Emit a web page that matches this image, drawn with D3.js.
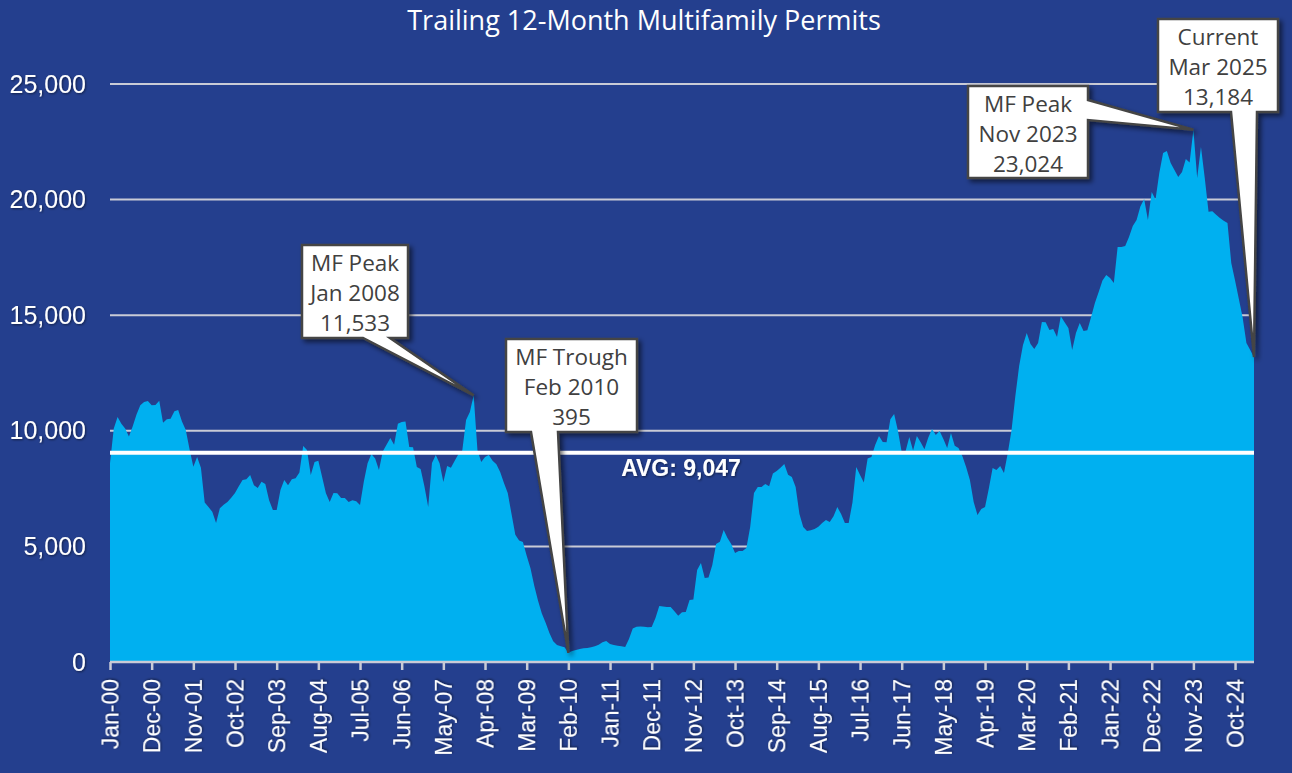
<!DOCTYPE html>
<html lang="en">
<head>
<meta charset="UTF-8">
<title>Trailing 12-Month Multifamily Permits</title>
<script src="https://d3js.org/d3.v7.min.js"></script>
<style>
  html, body { margin: 0; padding: 0; background: #243f8e; }
  svg { display: block; }
</style>
</head>
<body>
<svg width="1292" height="773"></svg>
<script>
// Trailing 12-month multifamily permits, monthly from Jan 2000 to Mar 2025
var permits = [
  8600, 10100, 10600, 10300, 10100, 9750, 10200, 10700, 11100, 11250, 11290, 11100,
  11120, 11300, 10350, 10500, 10520, 10850, 10900, 10400, 10030, 9200, 8450, 8870,
  8400, 6900, 6700, 6500, 6010, 6650, 6800, 6920, 7100, 7310, 7600, 7870,
  7900, 8090, 7650, 7530, 7800, 7700, 7000, 6570, 6570, 7440, 7870, 7650,
  7900, 7950, 8200, 9340, 9170, 8090, 8650, 8700, 8000, 7300, 6920, 7310,
  7300, 7090, 7090, 6920, 7000, 6950, 6790, 7800, 8600, 9000, 8800, 8300,
  9100, 9400, 9690, 9400, 10300, 10380, 10400, 9300, 9290, 8430, 8350, 7600,
  6700, 8610, 8950, 8600, 7790, 8480, 8400, 8700, 9000, 9150, 10470, 10810,
  11533, 9170, 8650, 8870, 8950, 8700, 8550, 8220, 7740, 7310, 6400, 5500,
  5250, 5190, 4600, 4050, 3300, 2650, 2100, 1700, 1250, 900, 735, 680,
  640, 395, 480, 520, 560, 590, 610, 640, 680, 750, 850, 910,
  780, 735, 700, 680, 650, 1000, 1450, 1520, 1540, 1520, 1500, 1510,
  1900, 2420, 2400, 2380, 2380, 2200, 2000, 2150, 2160, 2680, 2700, 3980,
  4280, 3630, 3650, 4200, 5100, 5200, 5710, 5360, 5100, 4710, 4800, 4800,
  4930, 5840, 7310, 7570, 7570, 7700, 7600, 8150, 8260, 8400, 8560, 8100,
  8000, 7570, 6400, 5840, 5670, 5700, 5750, 5850, 6010, 6140, 6050, 6300,
  6700, 6400, 6010, 6010, 6900, 8430, 8090, 7760, 8800, 8870, 9390, 9780,
  9520, 9500, 10500, 10730, 10000, 9080, 9100, 9730, 9150, 9780, 9500, 9200,
  9700, 10080, 9820, 9990, 9650, 9260, 9900, 9350, 9260, 8910, 8430, 7870,
  6920, 6360, 6620, 6700, 7500, 8390, 8300, 8480, 8170, 9040, 10030, 11500,
  12800, 13700, 14230, 13750, 13540, 13800, 14710, 14700, 14360, 14400, 14060, 14960,
  14700, 14450, 13490, 14230, 14660, 14320, 14350, 14920, 15530, 16000, 16500, 16740,
  16610, 16390, 17950, 17950, 17990, 18380, 18860, 19120, 19700, 20030, 19120, 20330,
  20000, 21150, 22020, 22100, 21580, 21280, 20980, 21190, 21760, 21600, 23024, 20930,
  22280, 20930, 19470, 19500, 19340, 19200, 19080, 18990, 17260, 16500, 15700, 14900,
  13800, 13490, 13184
];

var tickLabels = ["Jan-00","Dec-00","Nov-01","Oct-02","Sep-03","Aug-04","Jul-05",
  "Jun-06","May-07","Apr-08","Mar-09","Feb-10","Jan-11","Dec-11","Nov-12","Oct-13",
  "Sep-14","Aug-15","Jul-16","Jun-17","May-18","Apr-19","Mar-20","Feb-21","Jan-22",
  "Dec-22","Nov-23","Oct-24"];
var tickStep = 11;

var yTicks = [0, 5000, 10000, 15000, 20000, 25000];
var average = 9047;

var calloutMonths = [96, 121, 286, 302];
var calloutLabels = [
  ["MF Peak", "Jan 2008", "11,533"],
  ["MF Trough", "Feb 2010", "395"],
  ["MF Peak", "Nov 2023", "23,024"],
  ["Current", "Mar 2025", "13,184"]
];

// layout of the callout boxes (pixel positions)
var calloutBoxes = [
  {x: 302, y: 245, w: 106, h: 93, side: "bottom", a: 363, b: 390},
  {x: 506, y: 339, w: 131, h: 93, side: "bottom", a: 531, b: 558},
  {x: 968, y: 86,  w: 120, h: 92, side: "right",  a: 100, b: 120},
  {x: 1158, y: 19, w: 120, h: 93, side: "bottom", a: 1231, b: 1257}
];

var svg = d3.select("svg");
var bg = "#243f8e";

svg.append("rect").attr("width", 1292).attr("height", 773).attr("fill", bg);

var defs = svg.append("defs");
var shadow = defs.append("filter").attr("id", "boxShadow")
  .attr("x", "-20%").attr("y", "-20%").attr("width", "150%").attr("height", "150%");
shadow.append("feDropShadow").attr("dx", 3).attr("dy", 3).attr("stdDeviation", 2.5)
  .attr("flood-color", "#000").attr("flood-opacity", 0.55);

var textShadow = defs.append("filter").attr("id", "textShadow")
  .attr("x", "-10%").attr("y", "-20%").attr("width", "130%").attr("height", "150%");
textShadow.append("feDropShadow").attr("dx", 1).attr("dy", 1).attr("stdDeviation", 1)
  .attr("flood-color", "#000").attr("flood-opacity", 0.5);

var blur = defs.append("filter").attr("id", "lineBlur")
  .attr("x", "-5%").attr("y", "-200%").attr("width", "110%").attr("height", "500%");
blur.append("feGaussianBlur").attr("stdDeviation", 3);

var x = d3.scaleLinear().domain([0, permits.length - 1]).range([110, 1254]);
var y = d3.scaleLinear().domain([0, 25000]).range([662, 84]);

// gridlines
svg.append("g")
  .selectAll("line")
  .data(yTicks.slice(1))
  .join("line")
  .attr("x1", x(0)).attr("x2", x(permits.length - 1))
  .attr("y1", d => y(d)).attr("y2", d => y(d))
  .attr("stroke", "#c9cbd6").attr("stroke-width", 2);

// y labels
var yAxis = svg.append("g")
  .attr("transform", "translate(86,0)")
  .call(d3.axisLeft(y).tickValues(yTicks).tickSize(0).tickPadding(0).tickFormat(d3.format(",")));
yAxis.select(".domain").remove();
yAxis.selectAll("text")
  .attr("fill", "#fff")
  .attr("font-family", "'Liberation Sans', Arial, sans-serif")
  .attr("font-size", "25px")
  .attr("filter", "url(#textShadow)");

// area
var area = d3.area()
  .x((d, i) => x(i))
  .y0(y(0))
  .y1(d => y(d));

svg.append("path")
  .datum(permits)
  .attr("d", area)
  .attr("fill", "#00b0f0");

// average line with shadow
svg.append("line")
  .attr("x1", x(0)).attr("x2", x(permits.length - 1))
  .attr("y1", y(average) + 6).attr("y2", y(average) + 6)
  .attr("stroke", "#0a1848").attr("stroke-width", 8).attr("opacity", 0.75)
  .attr("filter", "url(#lineBlur)");
svg.append("line")
  .attr("x1", x(0)).attr("x2", x(permits.length - 1))
  .attr("y1", y(average)).attr("y2", y(average))
  .attr("stroke", "#fff").attr("stroke-width", 4);

svg.append("text")
  .attr("x", 681).attr("y", y(average) + 23)
  .attr("text-anchor", "middle")
  .attr("fill", "#fff")
  .attr("font-family", "'Liberation Sans', Arial, sans-serif")
  .attr("font-weight", "bold")
  .attr("font-size", "23px")
  .attr("filter", "url(#textShadow)")
  .text("AVG: " + d3.format(",")(average));

// x axis
var xAxis = svg.append("g")
  .attr("transform", `translate(0,${y(0)})`)
  .call(d3.axisBottom(x)
    .tickValues(tickLabels.map((d, i) => i * tickStep))
    .tickSize(8)
    .tickFormat((d, i) => tickLabels[i]));
xAxis.select(".domain").attr("stroke", "#c9cbd6").attr("stroke-width", 2.5)
  .attr("d", `M${x(0)},0H${x(permits.length - 1)}`);
xAxis.selectAll(".tick line").attr("stroke", "#c9cbd6").attr("stroke-width", 2.5);
xAxis.selectAll("text")
  .attr("fill", "#fff")
  .attr("font-family", "'Liberation Sans', Arial, sans-serif")
  .attr("font-size", "23px")
  .attr("text-anchor", "end")
  .attr("transform", "rotate(-90)")
  .attr("x", -17).attr("y", 0).attr("dy", "0.35em")
  .attr("filter", "url(#textShadow)");

// title
svg.append("text")
  .attr("x", 644).attr("y", 30)
  .attr("text-anchor", "middle")
  .attr("fill", "#fff")
  .attr("font-family", "'Open Sans', sans-serif")
  .attr("font-size", "27px")
  .text("Trailing 12-Month Multifamily Permits");

// callouts
function calloutPath(b, tx, ty) {
  var r = b.x + b.w, btm = b.y + b.h;
  if (b.side === "bottom") {
    return `M${b.x},${b.y}H${r}V${btm}H${b.b}L${tx},${ty}L${b.a},${btm}H${b.x}Z`;
  }
  return `M${b.x},${b.y}H${r}V${b.a}L${tx},${ty}L${r},${b.b}V${btm}H${b.x}Z`;
}

var callouts = svg.append("g")
  .selectAll("g")
  .data(calloutMonths)
  .join("g");

callouts.append("path")
  .attr("d", (m, i) => calloutPath(calloutBoxes[i], x(m), y(permits[m])))
  .attr("fill", "#fff")
  .attr("stroke", "#444")
  .attr("stroke-width", 2.5)
  .attr("stroke-linejoin", "miter")
  .attr("filter", "url(#boxShadow)");

callouts.each(function(m, i) {
  var b = calloutBoxes[i];
  d3.select(this).selectAll("text")
    .data(calloutLabels[i])
    .join("text")
    .attr("x", b.x + b.w / 2)
    .attr("y", (d, j) => b.y + 26 + j * 30)
    .attr("text-anchor", "middle")
    .attr("fill", "#404040")
    .attr("font-family", "'Open Sans', sans-serif")
    .attr("font-size", "22.5px")
    .text(d => d);
});
</script>
</body>
</html>
